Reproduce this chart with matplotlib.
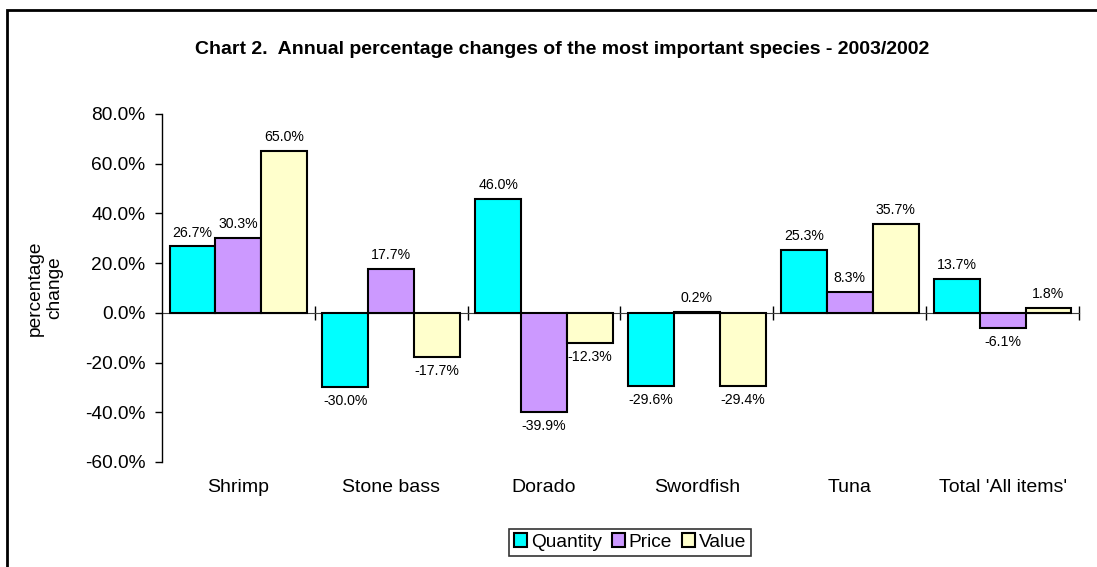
import matplotlib.pyplot as plt
import matplotlib.patches as mpatches
import numpy as np

plt.rcParams['font.family'] = ['Liberation Sans', 'DejaVu Sans']

categories = ['Shrimp', 'Stone bass', 'Dorado', 'Swordfish', 'Tuna', "Total 'All items'"]
quantity = [26.7, -30.0, 46.0, -29.6, 25.3, 13.7]
price = [30.3, 17.7, -39.9, 0.2, 8.3, -6.1]
value = [65.0, -17.7, -12.3, -29.4, 35.7, 1.8]
series_names = ['Quantity', 'Price', 'Value']
colors = ['#00FFFF', '#CC99FF', '#FFFFCC']

fig = plt.figure(figsize=(10.97, 5.67), dpi=100)
ax = fig.add_axes([162/1097, 1 - 462/567, 917/1097, 348/567])

x = np.arange(len(categories))
width = 0.3
for i, (vals, name) in enumerate(zip([quantity, price, value], series_names)):
    pos = x + (i - 1) * width
    ax.bar(pos, vals, width, color=colors[i], edgecolor='black', linewidth=1.5,
           label=name, zorder=3)
    for px, v in zip(pos, vals):
        if v >= 0:
            ax.annotate(f'{v:.1f}%', (px, v), xytext=(0, 5), textcoords='offset points',
                        ha='center', va='bottom', fontsize=10.2)
        else:
            ax.annotate(f'{v:.1f}%', (px, v), xytext=(0, -5), textcoords='offset points',
                        ha='center', va='top', fontsize=10.2)

ax.set_xlim(-0.5, len(categories) - 0.5)
ax.set_ylim(-60, 80)
ax.set_yticks(np.arange(-60, 81, 20))
ax.set_yticklabels([f'{t:.1f}%' for t in np.arange(-60, 81, 20)], fontsize=13.8)
ax.tick_params(axis='y', direction='out', length=5, width=1, pad=7)

ax.spines['top'].set_visible(False)
ax.spines['right'].set_visible(False)
ax.spines['left'].set_linewidth(1)
ax.spines['bottom'].set_position(('data', 0))
ax.spines['bottom'].set_color('#404040')
ax.spines['bottom'].set_zorder(2)

ax.set_xticks(x)
ax.set_xticklabels([])
ax.tick_params(axis='x', which='major', length=0)
ax.set_xticks(np.arange(0.5, len(categories), 1), minor=True)
ax.tick_params(axis='x', which='minor', direction='inout', length=10, width=1)

for xi, cat in zip(x, categories):
    ax.text(xi, -26/348, cat, transform=ax.get_xaxis_transform(),
            ha='center', va='center', fontsize=14)

fig.text(45/1097, 1 - 288/567, 'percentage\nchange', rotation=90,
         ha='center', va='center', fontsize=13.8, multialignment='center')

fig.text(562/1097, 1 - 50/567,
         'Chart 2.  Annual percentage changes of the most important species - 2003/2002',
         ha='center', va='center', fontsize=14, fontweight='bold')

leg = fig.legend(loc='center', bbox_to_anchor=(630/1097, 1 - 542/567), ncol=3,
                 fontsize=13.8, frameon=True, fancybox=False, edgecolor='black',
                 handlelength=0.7, handleheight=0.7, handletextpad=0.2,
                 columnspacing=0.5, borderpad=0.25, borderaxespad=0)
leg.get_frame().set_linewidth(1.2)

border = mpatches.Rectangle((7/1097, -0.05), 1.05, 1.05 - 10/567, transform=fig.transFigure,
                            fill=False, edgecolor='black', linewidth=2)
fig.patches.append(border)

fig.savefig('out.png', dpi=100)
